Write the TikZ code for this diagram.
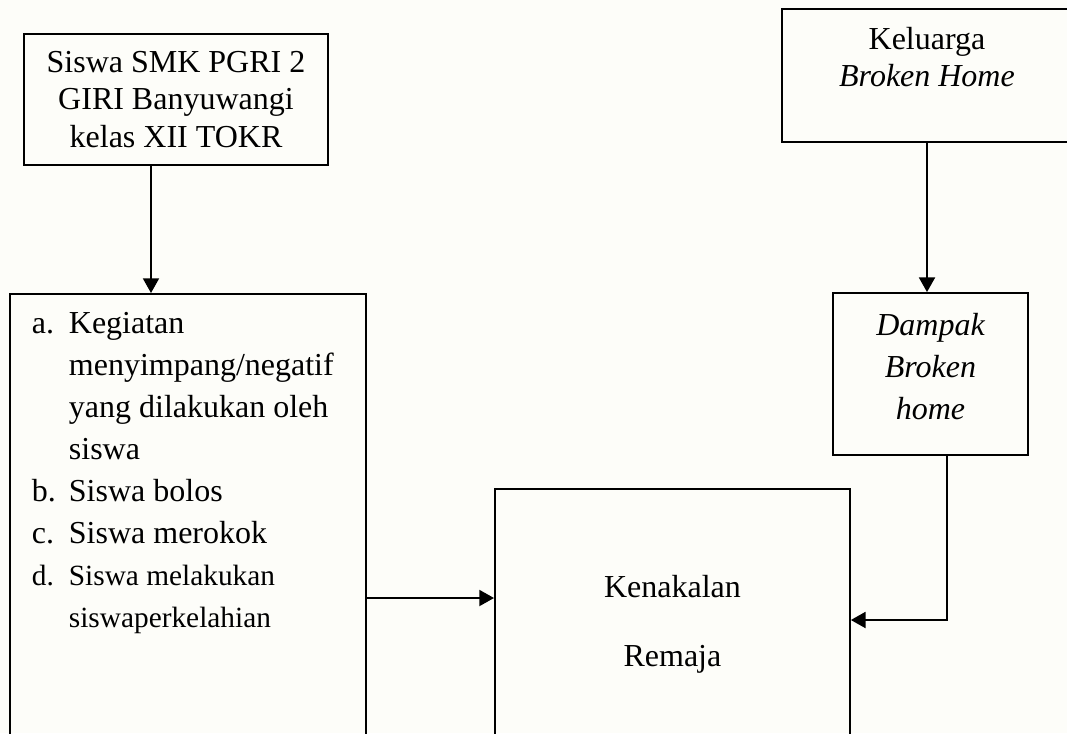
\documentclass[tikz,border=0pt]{standalone}
\usepackage{fontspec}
\setmainfont{Liberation Serif}
\usetikzlibrary{arrows.meta}

\definecolor{latar}{RGB}{253,253,249}
\tikzset{every picture/.style={line width=1.4pt}}
\tikzset{
  kotak/.style={draw, rectangle, inner sep=0pt, align=center},
  panah/.style={-{Triangle[length=11pt,width=12pt]}},
}
\newcommand{\kecil}[1]{{\fontsize{22}{31.5}\selectfont #1}}

\begin{document}
\begin{tikzpicture}[x=0.75pt,y=0.75pt,yscale=-1,xscale=1]
  \clip (0,0) rectangle (1067,733);
  \fill[latar] (0,0) rectangle (1067,733);

  %Shape: Rectangle [siswa]
  \node[kotak, minimum width=228pt, minimum height=98.25pt, font=\fontsize{24}{28.1}\selectfont] (siswa) at (176,99.5) {Siswa SMK PGRI 2\\GIRI Banyuwangi\\kelas XII TOKR};
  %Shape: Rectangle [keluarga]
  \node[kotak, minimum width=217.5pt, minimum height=99.75pt, font=\fontsize{24}{27.75}\selectfont] (keluarga) at (927,75.5) {Keluarga\\\textit{Broken Home}\\\mbox{}};
  %Shape: Rectangle [kegiatan]
  \node[kotak, anchor=north west, minimum width=267pt, minimum height=375pt] (kegiatan) at (9,293) {};
  %Shape: Rectangle [dampak]
  \node[kotak, minimum width=146.25pt, minimum height=121.5pt, text depth=11.5pt, font=\fontsize{24}{31.5}\selectfont\itshape] (dampak) at (930.5,374) {Dampak\\Broken\\home};
  %Shape: Rectangle [kenakalan]
  \node[kotak, anchor=north west, minimum width=266.25pt, minimum height=202.5pt, font=\fontsize{24}{51.75}\selectfont] (kenakalan) at (494,488) {Kenakalan\\Remaja};

  % Text Node
  \node[anchor=base west, inner sep=0pt, font=\fontsize{24}{31.5}\selectfont] (daftar) at (31,333) {%
    \begin{tabular}[t]{@{}p{27.75pt}@{}l@{}}
      a. & Kegiatan\\
         & menyimpang/negatif\\
         & yang dilakukan oleh\\
         & siswa\\
      b. & Siswa bolos\\
      c. & Siswa merokok\\
      \kecil{d.} & \kecil{Siswa melakukan}\\
         & \kecil{siswaperkelahian}
    \end{tabular}};

  %Straight Lines
  \draw[panah] (151,0 |- siswa.south) -- (151,0 |- kegiatan.north);
  \draw[panah] (keluarga.south) -- (keluarga.south |- dampak.north);
  \draw[panah] (kegiatan.east |- 0,598) -- (kenakalan.west |- 0,598);
  \draw[panah] (947,0 |- dampak.south) |- (kenakalan.east |- 0,620);
\end{tikzpicture}
\end{document}
